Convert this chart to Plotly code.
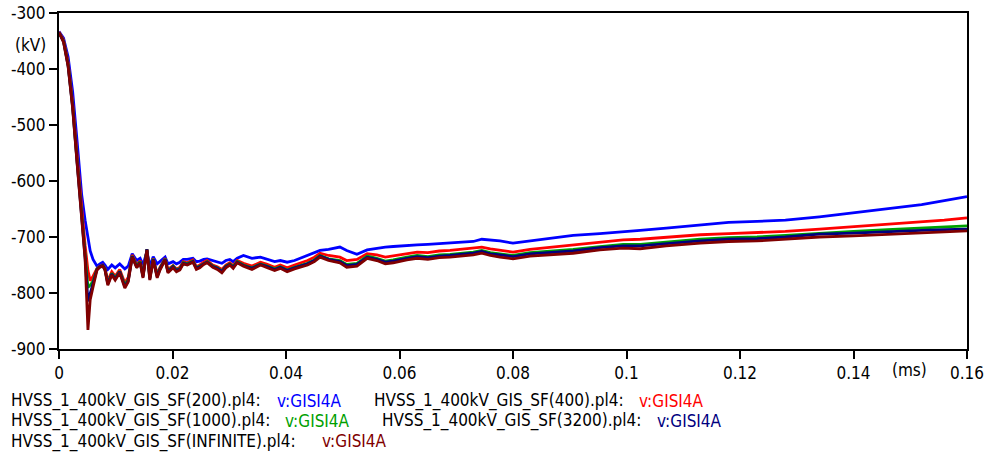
import plotly.graph_objects as go

# Time axis (ms), shared by all traces
t_ms = [
    0, 0.0008, 0.0016, 0.0024, 0.0032, 0.004, 0.0046,
    0.0051, 0.0055, 0.006, 0.0067, 0.0072, 0.0077, 0.0081, 0.0086, 0.0093, 0.0099,
    0.0107, 0.0116, 0.0122, 0.0129, 0.0137, 0.0143, 0.0148, 0.0155, 0.016, 0.0166,
    0.0173, 0.0178, 0.0187, 0.0192, 0.0201, 0.0207, 0.0213, 0.0219, 0.0226, 0.0236,
    0.0242, 0.0248, 0.0255, 0.0261, 0.0271, 0.0279, 0.0287, 0.0294, 0.0301, 0.0307, 0.0314,
    0.0325, 0.034, 0.0355, 0.0367, 0.038, 0.039, 0.0402, 0.0415, 0.0425, 0.0438,
    0.045, 0.046, 0.0475, 0.0495, 0.0507, 0.0525, 0.0543, 0.056, 0.0575, 0.0589,
    0.0613, 0.0631, 0.065, 0.067, 0.0689, 0.071, 0.073, 0.0745, 0.076, 0.0777, 0.08,
    0.083, 0.087, 0.0906, 0.0953, 0.0994, 0.1024, 0.107, 0.113, 0.118, 0.123,
    0.128, 0.134, 0.14, 0.146, 0.152, 0.156, 0.16,
]

# v:GISI4A (kV) for each SF case
v_sf200 = [
    -333, -345, -378, -440, -530, -625, -670,
    -700, -725, -740, -752, -748, -745, -750, -758, -750, -755,
    -748, -757, -752, -730, -742, -738, -750, -726, -752, -735,
    -748, -744, -736, -748, -744, -748, -745, -740, -740, -738,
    -744, -743, -740, -739, -742, -744, -747, -742, -740, -744, -738,
    -733, -738, -736, -740, -744, -742, -745, -742, -738, -733,
    -728, -724, -722, -718, -724, -731, -723, -720, -718, -717,
    -716, -714, -713, -712, -711, -709, -708, -704, -705, -707, -711,
    -707, -701, -697, -694, -691, -688, -684, -678, -674, -672,
    -670, -664, -657, -650, -642, -635, -628,
]
v_sf400 = [
    -334, -348, -388, -460, -555, -652, -715,
    -760, -778, -770, -756, -752, -750, -756, -778, -762, -770,
    -758, -782, -772, -732, -750, -742, -766, -722, -770, -738,
    -766, -754, -738, -758, -751, -757, -754, -744, -746, -741,
    -753, -750, -745, -742, -750, -753, -758, -750, -746, -751, -742,
    -747, -752, -745, -749, -754, -750, -755, -750, -747, -742,
    -736, -729, -733, -736, -742, -740, -730, -732, -736, -734,
    -730, -727, -728, -725, -724, -722, -720, -718, -721, -724, -727,
    -722, -718, -714, -709, -705, -704, -700, -696, -694, -692,
    -690, -686, -682, -678, -674, -670, -666,
]
v_sf1000 = [
    -335, -350, -392, -466, -565, -663, -732,
    -790, -786, -779, -757, -753, -751, -757, -782, -765, -773,
    -761, -786, -776, -734, -752, -744, -769, -722, -773, -739,
    -769, -756, -739, -761, -752, -759, -756, -746, -748, -743,
    -755, -752, -747, -744, -752, -755, -761, -752, -748, -753, -744,
    -750, -755, -748, -752, -757, -753, -759, -754, -751, -747,
    -741, -733, -739, -742, -749, -747, -734, -738, -743, -741,
    -736, -733, -735, -732, -731, -729, -727, -724, -728, -730, -733,
    -728, -725, -722, -717, -713, -713, -709, -704, -701, -700,
    -697, -693, -690, -687, -684, -682, -680,
]
v_sf3200 = [
    -335, -351, -394, -468, -568, -666, -737,
    -815, -800, -784, -758, -753, -751, -758, -784, -766, -775,
    -762, -789, -778, -735, -754, -745, -771, -722, -775, -740,
    -771, -757, -740, -762, -753, -760, -757, -747, -749, -744,
    -756, -753, -748, -745, -753, -756, -762, -753, -749, -754, -745,
    -751, -756, -749, -753, -758, -754, -760, -755, -752, -748,
    -742, -734, -740, -744, -751, -749, -736, -740, -745, -743,
    -738, -735, -737, -734, -733, -731, -729, -726, -730, -732, -735,
    -730, -727, -725, -719, -716, -716, -712, -707, -704, -703,
    -700, -695, -693, -690, -688, -687, -686,
]
v_sfinf = [
    -335, -352, -395, -470, -570, -668, -740,
    -866, -812, -789, -759, -754, -752, -759, -786, -768, -777,
    -764, -791, -780, -736, -755, -746, -773, -723, -777, -741,
    -773, -759, -741, -764, -755, -762, -759, -748, -750, -745,
    -758, -755, -749, -746, -754, -758, -764, -755, -750, -756, -746,
    -752, -758, -750, -755, -760, -756, -762, -757, -754, -750,
    -744, -736, -742, -746, -754, -752, -738, -742, -748, -746,
    -741, -738, -740, -737, -736, -734, -732, -729, -733, -736, -739,
    -734, -731, -729, -723, -720, -721, -716, -711, -708, -707,
    -704, -700, -698, -695, -693, -691, -689,
]

files = [
    "HVSS_1_400kV_GIS_SF(200).pl4:",
    "HVSS_1_400kV_GIS_SF(400).pl4:",
    "HVSS_1_400kV_GIS_SF(1000).pl4:",
    "HVSS_1_400kV_GIS_SF(3200).pl4:",
    "HVSS_1_400kV_GIS_SF(INFINITE).pl4:",
]
signal = "v:GISI4A"
series = [v_sf200, v_sf400, v_sf1000, v_sf3200, v_sfinf]
colors = ["#0000FF", "#FF0000", "#00A000", "#000080", "#800000"]

x_ticks = [0, 0.02, 0.04, 0.06, 0.08, 0.1, 0.12, 0.14, 0.16]
x_ticktext = ["0", "0.02", "0.04", "0.06", "0.08", "0.1", "0.12", "0.14", "0.16"]
y_ticks = [-300, -400, -500, -600, -700, -800, -900]
y_ticktext = ["-300", "-400", "-500", "-600", "-700", "-800", "-900"]

FONT = "DejaVu Sans Condensed, DejaVu Sans, sans-serif"
W, H = 987, 456
ML, MR, MT, MB = 59, 20, 13, 107
PW, PH = W - ML - MR, H - MT - MB

fig = go.Figure()
for name, vals, col in zip(files, series, colors):
    fig.add_trace(go.Scatter(
        x=t_ms, y=vals, mode="lines", name=name + " " + signal,
        line=dict(color=col, width=2.8), showlegend=False,
    ))


def px_x(px):
    return (px - ML) / PW


def px_y(py):
    return (H - MB - py) / PH


# Legend rows: file label followed by the coloured signal name
legend_items = [
    (9, 275, 401, 0), (372, 637, 401, 1),
    (9, 283, 421, 2), (380, 655, 421, 3),
    (9, 320, 441, 4),
]
annotations = []
for fx, sx, py, i in legend_items:
    annotations.append(dict(
        text=files[i], x=px_x(fx), y=px_y(py), xref="paper", yref="paper",
        xanchor="left", yanchor="middle", showarrow=False,
        font=dict(family=FONT, size=17, color="#000000"),
    ))
    annotations.append(dict(
        text=signal, x=px_x(sx), y=px_y(py), xref="paper", yref="paper",
        xanchor="left", yanchor="middle", showarrow=False,
        font=dict(family=FONT, size=17, color=colors[i]),
    ))

# Axis unit labels
annotations.append(dict(
    text="(kV)", x=px_x(48), y=px_y(45), xref="paper", yref="paper",
    xanchor="right", yanchor="middle", showarrow=False,
    font=dict(family=FONT, size=17, color="#000000"),
))
annotations.append(dict(
    text="(ms)", x=px_x(909), y=px_y(370), xref="paper", yref="paper",
    xanchor="center", yanchor="middle", showarrow=False,
    font=dict(family=FONT, size=17, color="#000000"),
))

axis_common = dict(
    showline=True, linecolor="#000000", linewidth=2, mirror=True,
    ticks="outside", ticklen=8, tickwidth=2, tickcolor="#000000",
    showgrid=False, zeroline=False, automargin=False,
    tickfont=dict(family=FONT, size=17, color="#000000"),
)

fig.update_layout(
    width=W, height=H,
    margin=dict(l=ML, r=MR, t=MT, b=MB),
    paper_bgcolor="#FFFFFF", plot_bgcolor="#FFFFFF",
    xaxis=dict(range=[0, 0.16], tickvals=x_ticks, ticktext=x_ticktext, **axis_common),
    yaxis=dict(range=[-900, -300], tickvals=y_ticks, ticktext=y_ticktext, **axis_common),
    annotations=annotations,
)

fig.write_html("out.html")
